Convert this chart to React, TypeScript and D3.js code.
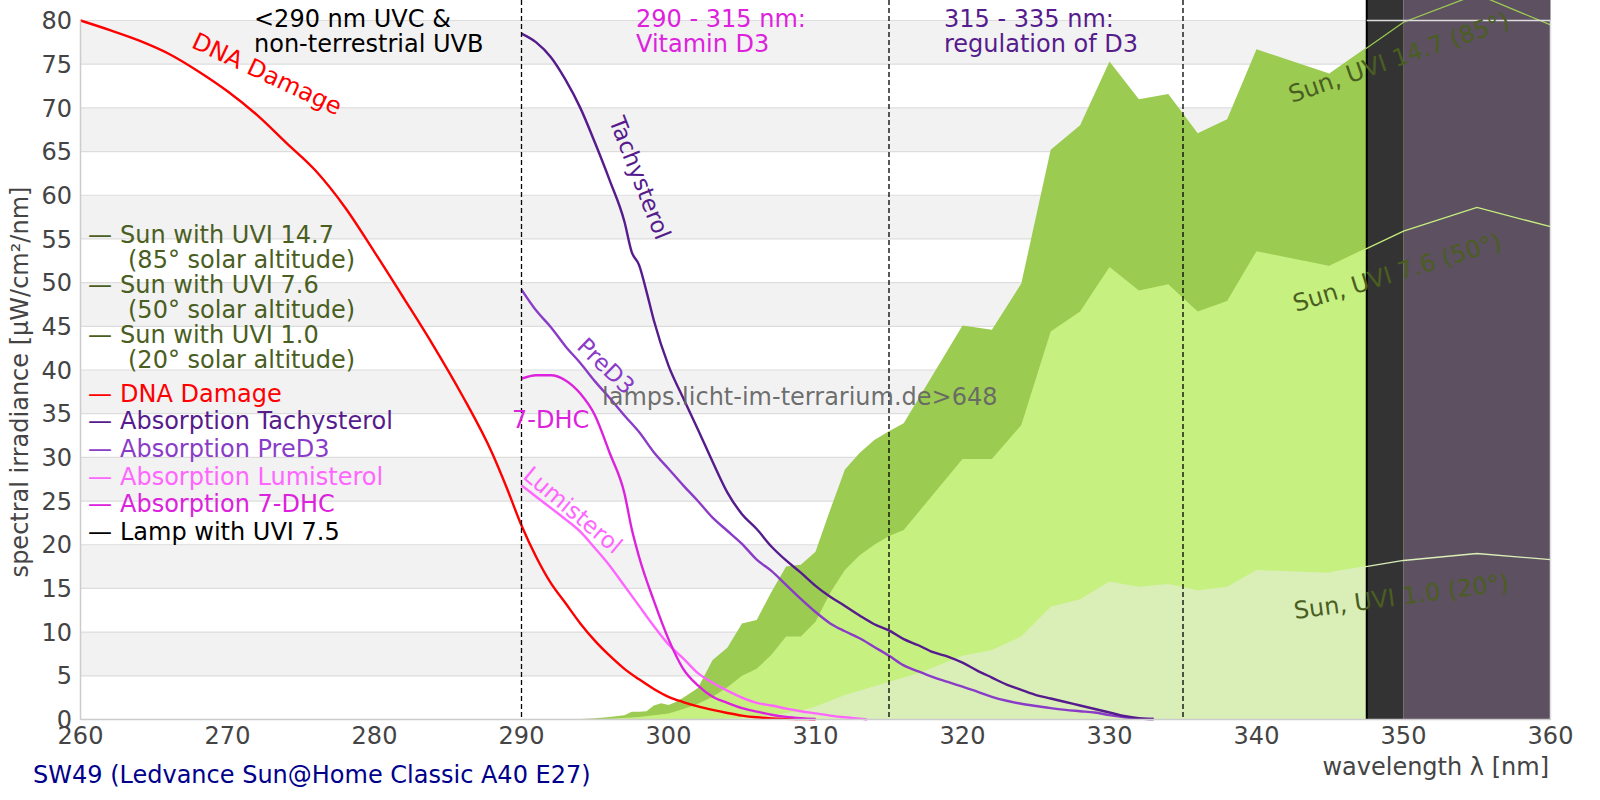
import React from 'react';
import * as d3 from 'd3';

type Pt = [number, number];

// sun spectra [wavelength nm, µW/cm²/nm]
const sun85: Pt[] = [[293,0],[294,0.05],[295,0.15],[296,0.3],[297,0.5],[297.5,0.9],[298,0.9],[298.5,0.95],[299,1.6],[299.5,1.85],[300,1.65],[300.5,2.0],[301,2.5],[302,3.6],[303,6.8],[304,8.2],[305,11.0],[306,11.4],[307,14.6],[308,17.5],[309,17.7],[310,19.2],[311,24.0],[312,28.6],[313,30.5],[314,32.0],[315,33.0],[316,33.9],[320,45.1],[322,44.6],[324,49.9],[326,65.2],[328,68.0],[330,75.3],[332,71.0],[334,71.6],[336,67.1],[338,68.7],[340,76.7],[345,73.9],[350,79.8],[355,83.0],[360,79.5]];
const sun50: Pt[] = [[294,0],[296,0.1],[298,0.3],[299,0.5],[300,0.7],[301,1.2],[302,1.8],[303,2.6],[304,3.7],[305,5.0],[306,5.8],[307,7.4],[308,9.5],[309,9.5],[310,11.2],[311,14.5],[312,17.1],[313,18.8],[314,20.0],[315,21.0],[316,21.7],[320,29.8],[322,29.8],[324,33.7],[326,44.4],[328,46.7],[330,51.8],[332,49.1],[334,49.8],[336,46.7],[338,47.9],[340,53.6],[345,51.9],[350,55.9],[355,58.6],[360,56.4]];
const sun20: Pt[] = [[303,0],[305,0.2],[307,0.5],[309,1.0],[310,1.5],[312,2.8],[314,3.8],[316,4.8],[317,5.3],[320,7.3],[322,7.95],[324,9.5],[326,12.9],[328,13.75],[330,15.8],[332,15.2],[334,15.5],[336,14.8],[338,15.2],[340,17.1],[345,16.8],[350,18.2],[355,19.0],[360,18.3]];

// action / absorption spectra
const dnaDamage: Pt[] = [[260,80],[262,78.9],[264,77.7],[266,76.2],[268,74.2],[270,71.9],[272,69.2],[274,66.0],[276,62.8],[278,58.6],[280,53.5],[282,48.2],[284,42.8],[286,37.0],[288,30.5],[289,26.5],[290,22.2],[291,18.6],[292,15.6],[293,13.3],[294,11.0],[295,9.0],[296,7.3],[297,5.8],[298,4.6],[299,3.5],[300,2.6],[301,2.0],[302,1.5],[303,1.1],[304,0.75],[305,0.45],[306,0.25],[307,0.12],[308,0.07],[309,0.05],[310,0.03]];
const tachysterol: Pt[] = [[290,78.5],[291,77.5],[292,75.8],[293,73.2],[294,70.0],[295,66.0],[296,61.7],[297,57.0],[297.5,53.5],[298,52.0],[298.5,49.0],[299,45.7],[300,40.5],[301,36.8],[302,33.2],[303,29.5],[304,26.0],[305,23.5],[306,21.8],[307,19.8],[308,18.2],[309,16.8],[310,15.3],[311,14.05],[312,13.0],[313,11.9],[314,10.9],[315,10.2],[316,9.2],[317,8.5],[318,7.7],[319,7.2],[320,6.5],[321,5.6],[322,4.8],[323,4.0],[324,3.4],[325,2.8],[326,2.4],[327,2.0],[328,1.6],[329,1.2],[330,0.8],[331,0.4],[332,0.15],[333,0.05]];
const preD3: Pt[] = [[290,49.2],[291,46.8],[292,44.9],[293,42.7],[294,40.8],[295,38.7],[296,36.8],[297,34.8],[298,32.9],[299,30.6],[300,28.7],[301,26.8],[302,25.0],[303,23.1],[304,21.6],[305,20.1],[306,18.3],[307,17.0],[308,15.4],[309,13.8],[310,12.3],[311,11.0],[312,10.1],[313,9.3],[314,8.3],[315,7.3],[316,6.2],[317,5.5],[318,4.85],[319,4.3],[320,3.75],[321,3.2],[322,2.6],[323,2.15],[324,1.8],[325,1.55],[326,1.3],[327,1.1],[328,0.95],[329,0.8],[330,0.5],[331,0.25],[332,0.1],[333,0.05]];
const lumisterol: Pt[] = [[290,26.8],[291,25.5],[292,24.2],[293,22.9],[294,21.5],[295,19.6],[296,17.6],[297,15.3],[298,13.0],[299,10.7],[300,8.6],[301,7.0],[302,5.3],[303,4.2],[304,3.3],[305,2.5],[306,1.9],[307,1.6],[308,1.25],[309,0.95],[310,0.7],[311,0.45],[312,0.25],[313,0.1],[313.5,0]];
const dhc7: Pt[] = [[290,39.0],[291,39.4],[292,39.4],[293,38.8],[294,37.3],[295,34.8],[296,30.5],[297,25.9],[297.5,21.8],[298,18.6],[299,13.6],[300,9.2],[301,5.8],[302,3.9],[303,2.6],[304,1.9],[305,1.3],[306,0.9],[307,0.55],[308,0.3],[309,0.15],[310,0.05]];

// lamp spectrum goes off scale above 347.5 nm
const lampBands: [number, number][] = [[347.5, 350], [350, 360]];
const regionBounds = [290, 315, 335];

const xTicks = [260, 270, 280, 290, 300, 310, 320, 330, 340, 350, 360];
const yTicks = d3.range(0, 81, 5);

const legendSun = [
  { label: 'Sun with UVI 14.7', sub: '(85° solar altitude)' },
  { label: 'Sun with UVI 7.6', sub: '(50° solar altitude)' },
  { label: 'Sun with UVI 1.0', sub: '(20° solar altitude)' },
];
const legendCurves = [
  { label: 'DNA Damage', color: '#ff0000' },
  { label: 'Absorption Tachysterol', color: '#561b8d' },
  { label: 'Absorption PreD3', color: '#8a3cc8' },
  { label: 'Absorption Lumisterol', color: '#ff66ff' },
  { label: 'Absorption 7-DHC', color: '#dd22dd' },
  { label: 'Lamp with UVI 7.5', color: '#000000' },
];

const W = 1600;
const H = 800;
const FONT = '"DejaVu Sans", Verdana, sans-serif';
const FS = 24;
const OLIVE = '#4a5e22';

export default function App() {
  const x = d3.scaleLinear().domain([260, 360]).range([80.5, 1550.5]);
  const y = d3.scaleLinear().domain([0, 80]).range([719.5, 20.5]);

  const area = d3.area<Pt>().x(d => x(d[0])).y0(y(0)).y1(d => y(d[1]));
  const line = d3.line<Pt>().x(d => x(d[0])).y(d => y(d[1]));
  const smooth = d3.line<Pt>().x(d => x(d[0])).y(d => y(d[1])).curve(d3.curveMonotoneX);

  const sunSeries = [
    { data: sun85, fill: '#9bcb51' },
    { data: sun50, fill: '#c6f07f' },
    { data: sun20, fill: '#daefb8' },
  ];
  const curves = [
    { data: dnaDamage, color: '#ff0000' },
    { data: preD3, color: '#8a3cc8' },
    { data: tachysterol, color: '#561b8d' },
    { data: lumisterol, color: '#ff66ff' },
    { data: dhc7, color: '#dd22dd' },
  ];
  const lampColors = ['#333333', '#5d5060'];

  return (
    <svg width={W} height={H} style={{ position: 'absolute', left: 0, top: 0, background: '#fff' }} fontFamily={FONT}>
      {/* alternating bands and grid */}
      {d3.range(5, 80, 10).map(b => (
        <rect key={b} x={x(260)} y={y(b + 5)} width={x(360) - x(260)} height={y(b) - y(b + 5)} fill="#f2f2f2" />
      ))}
      {yTicks.map(t => (
        <line key={t} x1={x(260)} x2={x(360)} y1={y(t)} y2={y(t)} stroke="#dddddd" strokeWidth={1.2} />
      ))}

      {/* sun spectra */}
      {sunSeries.map((s, i) => (
        <path key={i} d={area(s.data) || ''} fill={s.fill} />
      ))}

      {/* absorption curves */}
      {curves.map((c, i) => (
        <path key={i} d={smooth(c.data) || ''} fill="none" stroke={c.color} strokeWidth={2.4} />
      ))}

      {/* lamp */}
      {lampBands.map((b, i) => (
        <rect key={i} x={x(b[0])} y={0} width={x(b[1]) - x(b[0])} height={y(0)} fill={lampColors[i]} />
      ))}
      <line x1={x(lampBands[0][0])} x2={x(lampBands[0][0])} y1={0} y2={y(0)} stroke="#000" strokeWidth={2} />

      {/* sun outlines over the lamp */}
      {sunSeries.map((s, i) => (
        <path key={i} d={line(s.data.filter(d => d[0] >= 345)) || ''} fill="none" stroke={s.fill} strokeWidth={1.3} />
      ))}

      {/* frame */}
      <line x1={x(347.5)} x2={x(360)} y1={y(80)} y2={y(80)} stroke="#dddddd" strokeWidth={1.5} />
      <line x1={x(360)} x2={x(360)} y1={y(80)} y2={y(0)} stroke="#dddddd" strokeWidth={1.5} />
      <line x1={x(260)} x2={x(260)} y1={y(80)} y2={y(0)} stroke="#cccccc" strokeWidth={1.5} />
      <line x1={x(260)} x2={x(360)} y1={y(0)} y2={y(0)} stroke="#cccccc" strokeWidth={1.5} />

      {/* region bounds */}
      {regionBounds.map(r => (
        <line key={r} x1={x(r)} x2={x(r)} y1={0} y2={y(0)} stroke="#000" strokeWidth={1.3} strokeDasharray="5,3" />
      ))}

      {/* ticks */}
      {yTicks.map(t => (
        <text key={t} x={72} y={y(t)} dy="0.36em" textAnchor="end" fontSize={FS} fill="#444">{t}</text>
      ))}
      {xTicks.map(t => (
        <text key={t} x={x(t)} y={744} textAnchor="middle" fontSize={FS} fill="#444">{t}</text>
      ))}
      <text transform={`translate(28,${(y(0) + y(80)) / 2 + 12}) rotate(-90)`} textAnchor="middle" fontSize={FS} fill="#444">
        spectral irradiance [µW/cm²/nm]
      </text>
      <text x={1549} y={775} textAnchor="end" fontSize={FS} fill="#444">wavelength λ [nm]</text>
      <text x={33} y={783} fontSize={FS} fill="#00008b">SW49 (Ledvance Sun@Home Classic A40 E27)</text>

      {/* region annotations */}
      <text x={254} y={27} fontSize={FS} fill="#000">&lt;290 nm UVC &amp;</text>
      <text x={254} y={52} fontSize={FS} fill="#000">non-terrestrial UVB</text>
      <text x={636} y={27} fontSize={FS} fill="#dd22dd">290 - 315 nm:</text>
      <text x={636} y={52} fontSize={FS} fill="#dd22dd">Vitamin D3</text>
      <text x={944} y={27} fontSize={FS} fill="#561b8d">315 - 335 nm:</text>
      <text x={944} y={52} fontSize={FS} fill="#561b8d">regulation of D3</text>

      {/* curve labels */}
      <text transform="translate(267,74) rotate(25)" textAnchor="middle" dominantBaseline="central" fontSize={FS} fill="#ff0000">DNA Damage</text>
      <text transform="translate(640,178) rotate(68.5)" textAnchor="middle" dominantBaseline="central" fontSize={FS - 1} fill="#561b8d">Tachysterol</text>
      <text transform="translate(606,366) rotate(44)" textAnchor="middle" dominantBaseline="central" fontSize={FS - 1} fill="#8a3cc8">PreD3</text>
      <text transform="translate(573,510) rotate(40)" textAnchor="middle" dominantBaseline="central" fontSize={FS - 1} fill="#ff66ff">Lumisterol</text>
      <text x={512} y={428} fontSize={FS} fill="#dd22dd">7-DHC</text>
      <text x={602} y={405} fontSize={FS} fill="#666" fillOpacity={0.95}>lamps.licht-im-terrarium.de&gt;648</text>

      {/* sun labels */}
      <text transform="translate(1292,103) rotate(-19)" fontSize={FS} fill={OLIVE}>Sun, UVI 14.7 (85°)</text>
      <text transform="translate(1296,312) rotate(-17)" fontSize={FS} fill={OLIVE}>Sun, UVI 7.6 (50°)</text>
      <text transform="translate(1295,619) rotate(-7.6)" fontSize={FS} fill={OLIVE}>Sun, UVI 1.0 (20°)</text>

      {/* legend */}
      {legendSun.map((l, i) => (
        <g key={l.label} fill={OLIVE} fontSize={FS}>
          <text x={88} y={242.7 + i * 50}>—</text>
          <text x={120} y={242.7 + i * 50}>{l.label}</text>
          <text x={128} y={267.7 + i * 50}>{l.sub}</text>
        </g>
      ))}
      {legendCurves.map((l, i) => (
        <g key={l.label} fill={l.color} fontSize={FS}>
          <text x={88} y={401.7 + i * 27.6}>—</text>
          <text x={120} y={401.7 + i * 27.6}>{l.label}</text>
        </g>
      ))}
    </svg>
  );
}
